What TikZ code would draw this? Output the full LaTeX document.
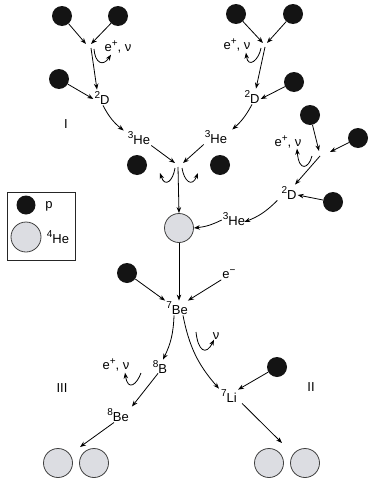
\documentclass[tikz,border=0pt]{standalone}
\usepackage{fontspec}
\setmainfont{Liberation Sans}
\usetikzlibrary{arrows.meta}
\definecolor{hefill}{HTML}{DCDDE2}
\definecolor{pfill}{HTML}{141414}
% raised index for nuclide labels and charges
\newcommand\nucsup[1]{\raisebox{0.42em}{\fontsize{10}{10}\selectfont #1}}
\begin{document}
\begin{tikzpicture}[x=1pt,y=-1pt,
  font=\fontsize{13}{15}\selectfont,
  proton/.style={circle,fill=pfill,minimum size=20pt,inner sep=0pt},
  helium/.style={circle,draw=black!75,line width=0.8pt,fill=hefill,minimum size=29pt,inner sep=0pt},
  lbl/.style={inner sep=1pt},
  flow/.style={-{Stealth[length=6pt,width=4.5pt]},line width=0.8pt},
]
\useasboundingbox (0,0) rectangle (368,479);

% ---------- branch I, left p-p chain ----------
\node[proton] (pA) at (62,16) {};
\node[proton] (pB) at (118,16) {};
\coordinate (mLa) at (86,44);
\coordinate (mLb) at (91,44);
\coordinate (mLs) at (91,48);
\coordinate (cL) at (94,49);
\node[lbl] (eL) at (118,47) {e\nucsup{+}, ν};
\node[lbl] (dL) at (102,98) {\nucsup{2}D};
\node[proton] (pC) at (59,79) {};
\node[lbl] (I) at (66,124) {I};
\node[lbl] (heL) at (139,138) {\nucsup{3}He};

\draw[flow] (pA) -- (mLa);
\draw[flow] (pB) -- (mLb);
\draw[flow] (mLs) -- ([xshift=-5pt,yshift=1pt]dL.north);
\draw[flow] (cL) .. controls (95,63) and (103,67) .. ([xshift=-7pt]eL.south);
\draw[flow] (pC) -- ([yshift=-1pt]dL.west);
\draw[flow] ([xshift=1pt]dL.south) to[bend right=12] ([xshift=-3pt]heL.north west);

% ---------- right p-p chain ----------
\node[proton] (pD) at (236,14) {};
\node[proton] (pE) at (293,14) {};
\coordinate (mRa) at (263,43);
\coordinate (mRb) at (267,43);
\coordinate (mRs) at (265,47);
\coordinate (cR) at (261,48);
\node[lbl] (eR) at (237,45) {e\nucsup{+}, ν};
\node[lbl] (dR) at (252,97) {\nucsup{2}D};
\node[proton] (pF) at (294,82) {};
\node[lbl] (heR) at (216,137) {\nucsup{3}He};

\draw[flow] (pD) -- (mRa);
\draw[flow] (pE) -- (mRb);
\draw[flow] (mRs) -- ([xshift=4pt,yshift=1pt]dR.north);
\draw[flow] (cR) .. controls (259,60) and (248,69) .. ([xshift=9pt]eR.south);
\draw[flow] (pF) -- ([yshift=-2pt]dR.east);
\draw[flow] (dR.south) to[bend left=10] ([xshift=4pt]heR.north east);

% ---------- 3He + 3He -> 4He + 2p ----------
\coordinate (mCa) at (175,163);
\coordinate (mCb) at (183,163);
\coordinate (mCs) at (178,167);
\coordinate (cCa) at (175,168);
\coordinate (cCb) at (182,168);
\coordinate (cCa2) at (160,173);
\coordinate (cCb2) at (198,173);
\node[proton] (pG) at (137,165) {};
\node[proton] (pH) at (220,165) {};
\node[helium] (heC) at (179,228) {};

\draw[flow] (heL.south east) -- (mCa);
\draw[flow] (heR.south west) -- (mCb);
\draw[flow] (mCs) -- (heC.north);
\draw[flow] (cCa) .. controls (173,181) and (165,188) .. (cCa2);
\draw[flow] (cCb) .. controls (184,181) and (192,188) .. (cCb2);

% ---------- branch with 3He + p ----------
\node[proton] (pI) at (310,115) {};
\node[proton] (pJ) at (358,138) {};
\coordinate (mXa) at (319,151);
\coordinate (mXb) at (330,152);
\coordinate (mXs) at (320,156);
\coordinate (cX) at (312,156);
\node[lbl] (eX) at (288,142) {e\nucsup{+}, ν};
\node[lbl] (dX) at (289,193) {\nucsup{2}D};
\node[proton] (pK) at (333,202) {};
\node[lbl] (heX) at (234,219) {\nucsup{3}He};

\draw[flow] (pI) -- (mXa);
\draw[flow] (pJ) -- (mXb);
\draw[flow] (mXs) -- ([xshift=6pt,yshift=1pt]dX.north);
\draw[flow] (cX) .. controls (309,168) and (299,173) .. ([xshift=9pt,yshift=1pt]eX.south);
\draw[flow] (pK) -- ([yshift=-2pt]dX.east);
\draw[flow] ([xshift=-3pt]dX.south west) to[bend left=12] ([xshift=-2pt,yshift=-3pt]heX.east);
\draw[flow] ([yshift=-1pt]heX.west) to[bend left=10] (heC.east);

% ---------- legend ----------
\node[draw=black!85,line width=0.8pt,minimum width=68pt,minimum height=68pt] (key) at (41,226) {};
\node[proton,minimum size=19pt] (kp) at (26,205) {};
\node[lbl] (kpl) at (49,206) {p};
\node[helium,minimum size=30pt] (khe) at (26,237) {};
\node[lbl] (khel) at (58,237) {\nucsup{4}He};

% ---------- 7Be ----------
\node[proton] (pL) at (127,273) {};
\node[lbl] (em) at (229,274) {e\nucsup{−}};
\node[lbl] (be7) at (177,308) {\nucsup{7}Be};

\draw[flow] (pL) -- (be7.north west);
\draw[flow] (heC.south) -- ([xshift=2pt]be7.north);
\draw[flow] (em.south west) -- ([xshift=-1pt]be7.north east);

% ---------- branch III ----------
\node[lbl] (b8) at (160,367) {\nucsup{8}B};
\node[lbl] (eB) at (116,365) {e\nucsup{+}, ν};
\node[lbl] (III) at (62,388) {III};
\node[lbl] (be8) at (118,415) {\nucsup{8}Be};
\node[helium] (hA) at (58,463) {};
\node[helium] (hB) at (94,463) {};
\coordinate (cB) at (141,373);
\coordinate (hAB) at (80,447);

\draw[flow] ([xshift=-3pt]be7.south) to[bend left=12] ([xshift=3pt]b8.north);
\draw[flow] (cB) .. controls (137,384) and (128,392) .. ([xshift=9pt]eB.south);
\draw[flow] ([xshift=-2pt,yshift=1pt]b8.south) -- ([xshift=2pt,yshift=1pt]be8.north east);
\draw[flow] ([xshift=-4pt]be8.south) -- (hAB);

% ---------- branch II ----------
\node[lbl] (nu) at (216,336) {ν};
\node[proton] (pM) at (277,367) {};
\node[lbl] (II) at (311,387) {II};
\node[lbl] (li7) at (229,396) {\nucsup{7}Li};
\node[helium] (hC) at (269,463) {};
\node[helium] (hD) at (305,463) {};
\coordinate (cN) at (196,332);
\coordinate (hCD) at (282,443);

\draw[flow] ([xshift=6pt]be7.south) to[bend right=15] ([xshift=-1pt]li7.north west);
\draw[flow] (cN) .. controls (198,351) and (206,356) .. ([xshift=-2pt,yshift=1pt]nu.south);
\draw[flow] (pM) -- ([yshift=-1pt]li7.north east);
\draw[flow] ([xshift=4pt]li7.south east) -- (hCD);
\end{tikzpicture}
\end{document}
